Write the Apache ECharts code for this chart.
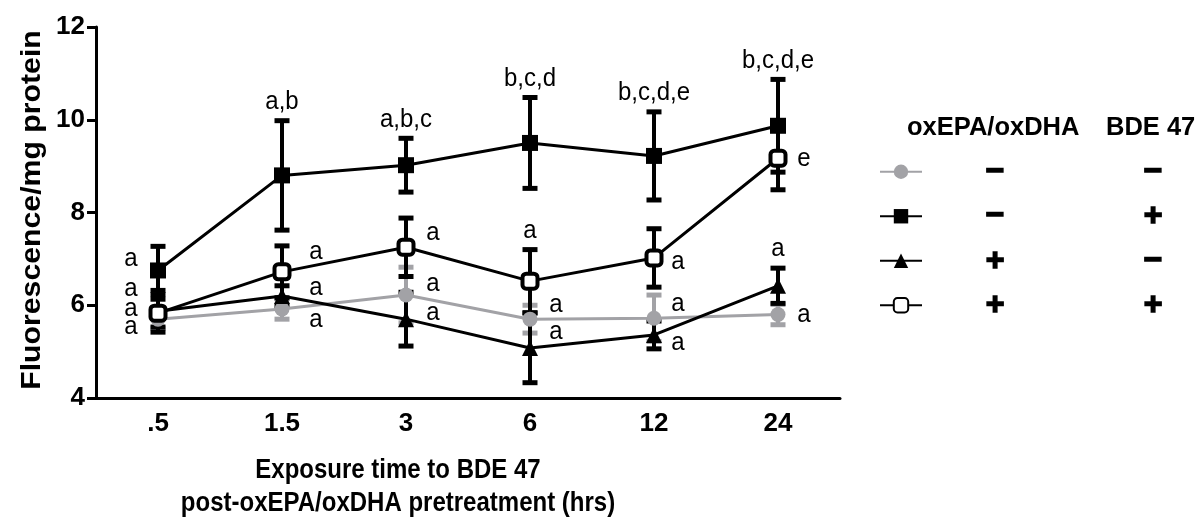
<!DOCTYPE html>
<html>
<head>
<meta charset="utf-8">
<script src="https://cdn.jsdelivr.net/npm/echarts@6/dist/echarts.min.js"></script>
<style>
  html, body { margin: 0; padding: 0; background: #fff; }
  #graphics { width: 1198px; height: 522px; }
</style>
</head>
<body>
<div id="graphics"></div>
<script>
// Exposure times (hrs) and tick labels
const categories = ['.5', '1.5', '3', '6', '12', '24'];
const yTicks = [4, 6, 8, 10, 12];

// Means and error bars
const ctrlMean = [5.70, 5.92, 6.22, 5.70, 5.72, 5.80];
const ctrlErr = [0.20, 0.22, 0.60, 0.30, 0.50, 0.22];
const bdeMean = [6.75, 8.80, 9.02, 9.50, 9.22, 9.87];
const bdeErr = [0.52, 1.18, 0.58, 0.98, 0.95, 1.00];
const oxMean = [5.87, 6.20, 5.70, 5.08, 5.36, 6.42];
const oxErr = [0.45, 0.22, 0.58, 0.75, 0.30, 0.38];
const bothMean = [5.83, 6.72, 7.25, 6.52, 7.02, 9.17];
const bothErr = [0.30, 0.56, 0.63, 0.68, 0.63, 0.68];

// Significance letters
const ctrlLetters = ['a', 'a', 'a', 'a', 'a', 'a'];
const bdeLetters = ['a', 'a,b', 'a,b,c', 'b,c,d', 'b,c,d,e', 'b,c,d,e'];
const oxLetters = ['a', 'a', 'a', 'a', 'a', 'a'];
const bothLetters = ['a', 'a', 'a', 'a', 'a', 'e'];

// Legend table
const legendOx = ['\u2212', '\u2212', '+', '+'];
const legendBde = ['\u2212', '+', '\u2212', '+'];

const FONT = '"Liberation Sans", Arial, sans-serif';
const GRAY = '#a2a2a6';

// where each letter sits: 'top' = above the error bar, otherwise [dx, dy] from the point
const ctrlLabelPos = [[-27, 8], [34, 11], [27, -11], [26, -14], [24, -15], [26, 0]];
const bdeLabelPos = [[-27, -12], 'top', 'top', 'top', 'top', 'top'];
const oxLabelPos = [[-27, -3], [34, -8], [27, -6], [26, -16], [24, 8], 'top'];
const bothLabelPos = [[-27, -24], [34, -20], [27, -15], 'top', [24, 4], [26, 0]];

function errorBars(name, means, errs, letters, labelPos, color) {
    return {
        name: name + ' err',
        type: 'custom',
        coordinateSystem: 'cartesian2d',
        silent: true,
        clip: false,
        z: 2,
        data: means.map((m, i) => [i, m, errs[i]]),
        renderItem: function (params, api) {
            const i = api.value(0);
            const m = api.value(1);
            const e = api.value(2);
            const c = api.coord([i, m]);
            const top = api.coord([i, m + e]);
            const bot = api.coord([i, m - e]);
            const cap = 7.5;
            const st = { stroke: color, lineWidth: 4 };
            const capSt = { stroke: color, lineWidth: 5 };
            const pos = labelPos[i];
            let tx, ty;
            if (pos === 'top') {
                tx = c[0];
                ty = top[1] - 19;
            } else {
                tx = c[0] + pos[0];
                ty = c[1] + pos[1];
            }
            return {
                type: 'group',
                children: [
                    { type: 'line', shape: { x1: c[0], y1: top[1], x2: c[0], y2: bot[1] }, style: st },
                    { type: 'line', shape: { x1: c[0] - cap, y1: top[1], x2: c[0] + cap, y2: top[1] }, style: capSt },
                    { type: 'line', shape: { x1: c[0] - cap, y1: bot[1], x2: c[0] + cap, y2: bot[1] }, style: capSt },
                    {
                        type: 'text', x: tx, y: ty, scaleY: 1.1,
                        style: {
                            text: letters[i], fill: '#000', font: '24px ' + FONT,
                            align: 'center', verticalAlign: 'middle'
                        }
                    }
                ]
            };
        }
    };
}

function lineSeries(name, means, color, symbol, itemStyle, size) {
    return {
        name: name,
        type: 'line',
        z: 3,
        data: means,
        symbol: symbol,
        symbolSize: size,
        showAllSymbol: true,
        lineStyle: { color: color, width: 3 },
        itemStyle: itemStyle,
        emphasis: { disabled: true }
    };
}

var myChart = echarts.init(document.getElementById('graphics'));

var option = {
    animation: false,
    backgroundColor: '#fff',
    textStyle: { fontFamily: FONT },
    grid: { left: 96, right: 358, top: 27, bottom: 124 },
    xAxis: {
        type: 'category',
        data: categories,
        boundaryGap: true,
        axisLine: { lineStyle: { color: '#000', width: 3 } },
        axisTick: { alignWithLabel: true, length: 9, lineStyle: { color: '#000', width: 3 } },
        axisLabel: { color: '#000', fontSize: 26, fontWeight: 'bold', margin: 13, fontFamily: FONT },
        splitLine: { show: false }
    },
    yAxis: {
        type: 'value',
        min: yTicks[0],
        max: yTicks[yTicks.length - 1],
        interval: 2,
        axisLine: { show: true, lineStyle: { color: '#000', width: 3 } },
        axisTick: { show: true, length: 9, lineStyle: { color: '#000', width: 3 } },
        axisLabel: { color: '#000', fontSize: 26, fontWeight: 'bold', margin: 11, fontFamily: FONT },
        splitLine: { show: false }
    },
    legend: {
        orient: 'vertical',
        left: 874,
        top: 150,
        itemWidth: 42,
        itemHeight: 18,
        itemGap: 11,
        selectedMode: false,
        data: ['ctrl', 'bde', 'ox', 'both'],
        formatter: function (name) {
            const k = ['ctrl', 'bde', 'ox', 'both'].indexOf(name);
            return '{a|' + legendOx[k] + '}{b|' + legendBde[k] + '}';
        },
        textStyle: {
            rich: {
                a: { width: 136, align: 'center', fontSize: 32, fontWeight: 'bold', lineHeight: 28, fontFamily: FONT, color: '#000', textBorderColor: '#000', textBorderWidth: 1.5 },
                b: { width: 180, align: 'center', fontSize: 32, fontWeight: 'bold', lineHeight: 28, fontFamily: FONT, color: '#000', textBorderColor: '#000', textBorderWidth: 1.5 }
            }
        }
    },
    graphic: [
        {
            type: 'text', x: 32, y: 210, rotation: Math.PI / 2, scaleX: 1.08,
            style: { text: 'Fluorescence/mg protein', font: 'bold 28px ' + FONT, fill: '#000', align: 'center', verticalAlign: 'middle' }
        },
        {
            type: 'text', x: 398, y: 470, scaleY: 1.15,
            style: { text: 'Exposure time to BDE 47', font: 'bold 24px ' + FONT, fill: '#000', align: 'center', verticalAlign: 'middle' }
        },
        {
            type: 'text', x: 398, y: 503, scaleY: 1.15,
            style: { text: 'post-oxEPA/oxDHA pretreatment (hrs)', font: 'bold 24px ' + FONT, fill: '#000', align: 'center', verticalAlign: 'middle' }
        },
        {
            type: 'text', x: 907, y: 128,
            style: { text: 'oxEPA/oxDHA', font: 'bold 25.5px ' + FONT, fill: '#000', align: 'left', verticalAlign: 'middle' }
        },
        {
            type: 'text', x: 1106, y: 128,
            style: { text: 'BDE 47', font: 'bold 25.5px ' + FONT, fill: '#000', align: 'left', verticalAlign: 'middle' }
        }
    ],
    series: [
        errorBars('ctrl', ctrlMean, ctrlErr, ctrlLetters, ctrlLabelPos, GRAY),
        lineSeries('ctrl', ctrlMean, GRAY, 'circle', { color: GRAY }, 15),
        errorBars('bde', bdeMean, bdeErr, bdeLetters, bdeLabelPos, '#000'),
        lineSeries('bde', bdeMean, '#000', 'rect', { color: '#000' }, 16),
        errorBars('ox', oxMean, oxErr, oxLetters, oxLabelPos, '#000'),
        lineSeries('ox', oxMean, '#000', 'triangle', { color: '#000' }, 16),
        errorBars('both', bothMean, bothErr, bothLetters, bothLabelPos, '#000'),
        lineSeries('both', bothMean, '#000', 'roundRect', { color: '#fff', borderColor: '#000', borderWidth: 4 }, 15)
    ]
};

myChart.setOption(option);
</script>
</body>
</html>
